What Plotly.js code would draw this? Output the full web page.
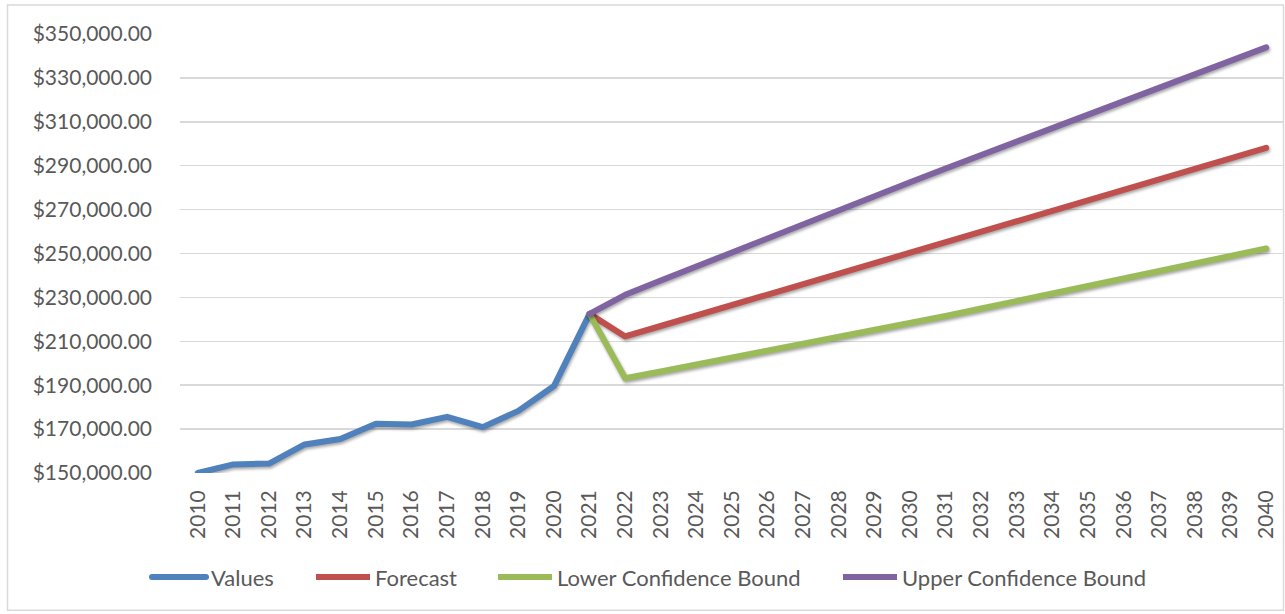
<!DOCTYPE html>
<html>
<head>
<meta charset="utf-8">
<script src="https://cdn.plot.ly/plotly-3.0.1.min.js"></script>
<style>
  html, body { margin: 0; padding: 0; background: #ffffff; }
  #chart { width: 1285px; height: 614px; }
  .scatterlayer .js-line, .legend .js-line { stroke-linecap: round; stroke-linejoin: round; }
  .scatterlayer .js-line { filter: drop-shadow(1px 2px 1.5px rgba(0,0,0,0.35)); }
</style>
</head>
<body>
<div id="chart"></div>
<script>
// Years shown on the category axis
const years = ["2010","2011","2012","2013","2014","2015","2016","2017","2018","2019",
               "2020","2021","2022","2023","2024","2025","2026","2027","2028","2029",
               "2030","2031","2032","2033","2034","2035","2036","2037","2038","2039","2040"];

// Observed values 2010-2021
const historyYears = years.slice(0, 12);
const values = [150000, 153900, 154300, 163000, 165500, 172400, 172100, 175600, 170900, 178300, 189600, 222500];

// Forecast and confidence bounds 2021-2040 (all start at the last observed value)
const forecastYears = years.slice(11);
const forecast = [222500, 212200, 216970, 221750, 226520, 231290, 236060, 240840, 245610, 250380,
                  255150, 259930, 264700, 269470, 274240, 279020, 283790, 288560, 293330, 298100];
const lowerBound = [222500, 193200, 196270, 199350, 202420, 205490, 208660, 211840, 215010, 218280,
                    221550, 224930, 228300, 231670, 235140, 238620, 242090, 245360, 248830, 252300];
const upperBound = [222500, 231200, 237670, 244150, 250620, 257090, 263460, 269840, 276210, 282480,
                    288750, 294930, 301100, 307270, 313340, 319420, 325490, 331760, 337830, 343900];

const seriesNames = ["Values", "Forecast", "Lower Confidence Bound", "Upper Confidence Bound"];
const seriesColors = ["#4F81BD", "#C0504D", "#9BBB59", "#8064A2"];

const FONT = "Lato, 'Open Sans', sans-serif";
const TEXT = "#595959";
const LW = 6;

const xs = [historyYears, forecastYears, forecastYears, forecastYears];
const ys = [values, forecast, lowerBound, upperBound];
const legendIds = ["legend", "legend2", "legend3", "legend4"];

const traces = seriesNames.map((name, i) => ({
  type: "scatter",
  mode: "lines",
  name: name,
  x: xs[i],
  y: ys[i],
  line: { color: seriesColors[i], width: LW },
  legend: legendIds[i],
  hoverinfo: "x+y+name"
}));

const plotL = 180, plotR = 1284, plotT = 33.5, plotB = 473.5;
const W = 1285, H = 614;
const pw = plotR - plotL, ph = plotB - plotT;
const px = v => (v - plotL) / pw;
const py = v => (plotB - v) / ph;

// one legend box per series, laid out in a single row under the axis
const legendStarts = [147, 311, 493, 838];
function legendAt(x0) {
  return {
    orientation: "h",
    x: px(x0), xanchor: "left",
    y: py(578), yanchor: "middle",
    font: { family: FONT, size: 22, color: TEXT },
    itemwidth: 54,
    bgcolor: "rgba(0,0,0,0)",
    borderwidth: 0
  };
}

const layout = {
  width: W, height: H,
  margin: { l: plotL, r: W - plotR, t: plotT, b: H - plotB, pad: 0 },
  paper_bgcolor: "#ffffff",
  plot_bgcolor: "#ffffff",
  font: { family: FONT, size: 21, color: TEXT },
  showlegend: true,
  legend: legendAt(legendStarts[0]),
  legend2: legendAt(legendStarts[1]),
  legend3: legendAt(legendStarts[2]),
  legend4: legendAt(legendStarts[3]),
  xaxis: {
    type: "category",
    categoryorder: "array",
    categoryarray: years,
    range: [-0.5, years.length - 0.5],
    tickangle: -90,
    ticks: "",
    ticklabelstandoff: 12,
    showgrid: false,
    zeroline: false,
    showline: false,
    fixedrange: true,
    tickfont: { family: FONT, size: 21, color: TEXT }
  },
  yaxis: {
    range: [150000, 350000],
    tick0: 150000,
    dtick: 20000,
    tickprefix: "$",
    tickformat: ",.2f",
    showgrid: true,
    gridcolor: "#D9D9D9",
    gridwidth: 1.5,
    zeroline: false,
    showline: false,
    ticks: "",
    ticklabelstandoff: 27,
    fixedrange: true,
    tickfont: { family: FONT, size: 21, color: TEXT }
  },
  shapes: [
    {
      type: "rect", xref: "paper", yref: "paper", layer: "below",
      x0: px(7.5), x1: px(1283.5), y0: py(611), y1: py(4.5),
      line: { color: "#D9D9D9", width: 1.5 }, fillcolor: "rgba(0,0,0,0)"
    }
  ]
};

Plotly.newPlot("chart", traces, layout, { displayModeBar: false, staticPlot: true });
</script>
</body>
</html>
